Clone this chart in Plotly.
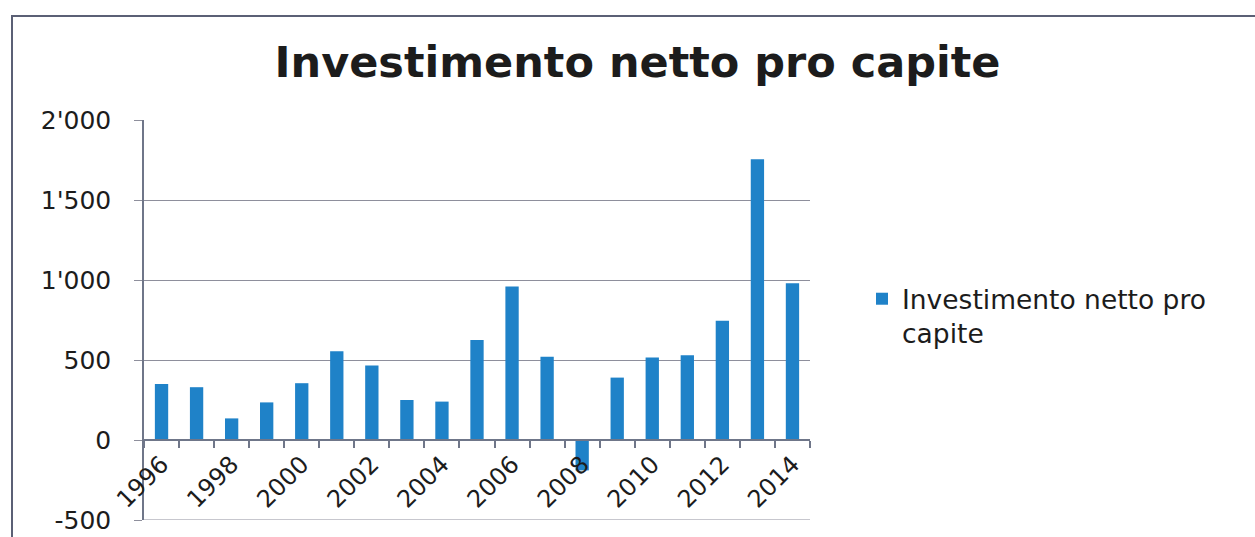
import plotly.graph_objects as go

# Net investment per capita, by year
years = list(range(1996, 2015))
investimento = [350, 330, 135, 235, 355, 555, 465, 250, 240, 625,
                960, 520, -190, 390, 515, 530, 745, 1755, 980]

series_name = "Investimento netto pro<br>capite"
title_text = "Investimento netto pro capite"

y_ticks = [-500, 0, 500, 1000, 1500, 2000]
y_labels = ["-500", "0", "500", "1'000", "1'500", "2'000"]
x_label_years = years[::2]
x_labels = [str(y) for y in x_label_years]

W, H = 1255, 537
L, R, T, B = 144, 445, 120, 17
plot_w = W - L - R
plot_h = H - T - B

y_min, y_max = -500, 2000
zero_frac = (0 - y_min) / (y_max - y_min)

bar_color = "#1f82c8"
grid_color = "#8e8f9c"
axis_color = "#6f7689"
text_color = "#1c1c1c"
font_family = "DejaVu Sans"

fig = go.Figure()
fig.add_trace(go.Bar(
    x=years,
    y=investimento,
    name=series_name,
    marker=dict(color=bar_color, line=dict(width=0)),
    showlegend=True,
))

# category boundaries for the small tick marks on the zero axis
boundaries = [y - 0.5 for y in years] + [years[-1] + 0.5]

fig.update_layout(
    width=W,
    height=H,
    margin=dict(l=L, r=R, t=T, b=B, autoexpand=False),
    paper_bgcolor="white",
    plot_bgcolor="white",
    bargap=0.62,
    font=dict(family=font_family, color=text_color),
    title=dict(
        text="<b>" + title_text + "</b>",
        font=dict(size=43, family=font_family, color=text_color),
        x=0.508, xref="container", xanchor="center",
        y=1 - 62 / H, yref="container", yanchor="middle",
    ),
    showlegend=True,
    legend=dict(
        x=(862 - L) / plot_w, xanchor="left",
        y=1 - (275 - T) / plot_h, yanchor="top",
        font=dict(size=26.5, family=font_family, color=text_color),
        valign="top",
        bgcolor="rgba(0,0,0,0)",
        borderwidth=0,
    ),
    xaxis=dict(
        range=[years[0] - 0.5, years[-1] + 0.5],
        anchor="free",
        position=zero_frac,
        tickmode="array",
        tickvals=x_label_years,
        ticktext=x_labels,
        tickangle=-45,
        ticks="",
        tickfont=dict(size=24, family=font_family, color=text_color),
        showline=True,
        linecolor=axis_color,
        linewidth=1.5,
        showgrid=False,
        zeroline=False,
        minor=dict(
            tickmode="array",
            tickvals=boundaries,
            ticks="outside",
            ticklen=7,
            tickwidth=1.5,
            tickcolor=axis_color,
            showgrid=False,
        ),
    ),
    yaxis=dict(
        range=[y_min, y_max],
        tickmode="array",
        tickvals=y_ticks,
        ticktext=y_labels,
        ticks="outside",
        ticklen=8,
        tickcolor=grid_color,
        tickwidth=1,
        ticklabelstandoff=18,
        tickfont=dict(size=25, family=font_family, color=text_color),
        showgrid=True,
        gridcolor=grid_color,
        gridwidth=1,
        showline=True,
        linecolor=axis_color,
        linewidth=1.5,
        zeroline=False,
    ),
)

# bottom gridline at the lower end of the value axis
fig.add_shape(
    type="line", xref="paper", yref="y",
    x0=0, x1=1, y0=y_min, y1=y_min,
    line=dict(color=grid_color, width=1),
    layer="below",
)

# chart frame (top and left edges fall inside the page)
fig.add_shape(
    type="rect", xref="paper", yref="paper",
    x0=(12 - L) / plot_w, x1=(W + 10 - L) / plot_w,
    y0=1 - (H + 10 - T) / plot_h, y1=1 - (16 - T) / plot_h,
    line=dict(color="#5b6075", width=2),
    fillcolor="rgba(0,0,0,0)",
    layer="below",
)

fig.write_html("out.html")
